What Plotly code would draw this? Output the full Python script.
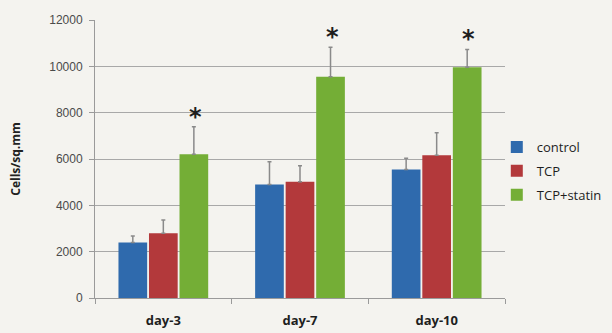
import plotly.graph_objects as go

days = ["day-3", "day-7", "day-10"]
series = ["control", "TCP", "TCP+statin"]
control = [2400, 4900, 5550]
control_err = [280, 980, 480]
tcp = [2790, 5020, 6160]
tcp_err = [580, 690, 970]
statin = [6200, 9550, 9960]
statin_err = [1190, 1270, 770]
star_marks = ["*", "*", "*"]

colors = ["#2f6aad", "#b3393b", "#74ae36"]
values = [control, tcp, statin]
errors = [control_err, tcp_err, statin_err]

fig = go.Figure()
for name, vals, errs, col in zip(series, values, errors, colors):
    fig.add_trace(go.Bar(
        x=days, y=vals, name=name, legendgroup=name,
        marker=dict(color=col, line=dict(width=0)),
        error_y=dict(type="data", array=errs, arrayminus=[0] * len(errs),
                     symmetric=False, color="#8a8a8a", thickness=1.5, width=2),
    ))

# significance stars above the statin bars
for i, d in enumerate(days):
    fig.add_annotation(
        x=d, y=statin[i] + statin_err[i], text="<b>" + star_marks[i] + "</b>",
        xshift=32, yshift=-6, yanchor="bottom", showarrow=False,
        font=dict(size=24, color="#1e1e1e", family="DejaVu Sans"),
    )

fig.update_layout(
    width=612, height=333,
    margin=dict(l=95, r=107, t=20, b=35, autoexpand=False),
    paper_bgcolor="#f4f3ef", plot_bgcolor="#f4f3ef",
    barmode="group", bargap=0.33, bargroupgap=0.06,
    font=dict(family="Open Sans", color="#333333"),
    legend=dict(x=0.98, y=0.457, yanchor="middle", xanchor="left",
                font=dict(size=13, color="#1e1e1e"), tracegroupgap=4,
                bgcolor="rgba(0,0,0,0)"),
    showlegend=True,
)
fig.update_yaxes(
    range=[0, 12000], dtick=2000, tickformat="d", showgrid=True,
    gridcolor="#a8a8a8", gridwidth=1, zeroline=False, showline=True,
    linecolor="#9a9a9a", ticks="outside", ticklen=5, tickcolor="#9a9a9a",
    ticklabelstandoff=4,
    tickfont=dict(size=12, color="#4a4a4a", family="Liberation Sans"),
    title=dict(text="<b>Cells/sq.mm</b>", font=dict(size=12, color="#222222"),
               standoff=26),
)
fig.update_xaxes(
    automargin=False,
    showline=True, linecolor="#9a9a9a", ticks="outside", tickson="boundaries",
    ticklen=5, tickcolor="#9a9a9a", ticklabelstandoff=10,
    tickfont=dict(size=13, color="#1e1e1e", family="Open Sans"),
    tickvals=days, ticktext=[f"<b>{d}</b>" for d in days],
)

fig.write_html("out.html")
